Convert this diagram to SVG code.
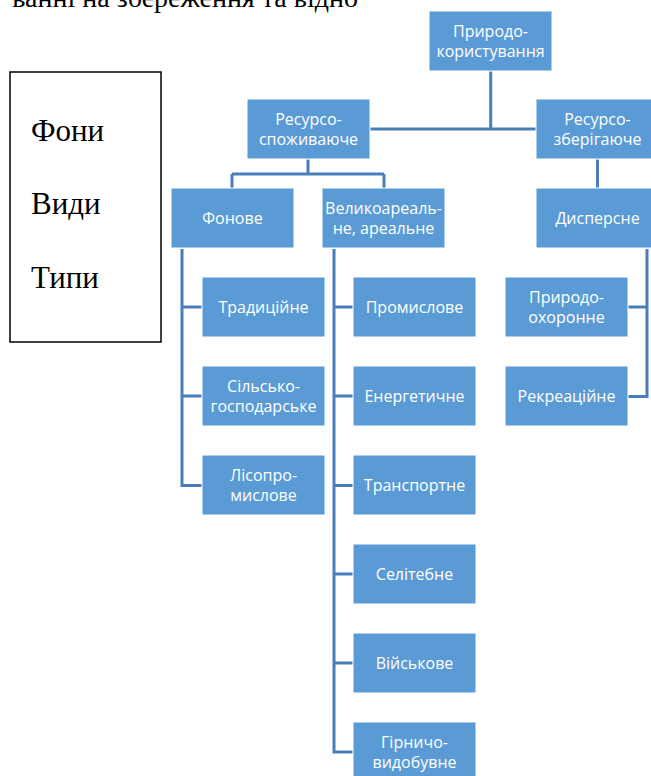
<svg xmlns="http://www.w3.org/2000/svg" width="651" height="776" viewBox="0 0 651 776">
<style>
.box{fill:#5B9BD5;stroke:#ffffff;stroke-width:1}
.lbl{font-family:"Open Sans","Liberation Sans",sans-serif;font-size:16px;fill:#ffffff;text-anchor:middle}
.conn{fill:none;stroke:#4A7EBB;stroke-width:3}
.serif{font-family:"Liberation Serif","Times New Roman",serif;font-size:31px;fill:#000000}
.top{font-family:"Liberation Serif","Times New Roman",serif;font-size:28px;fill:#000000}
</style>
<rect width="651" height="776" fill="#ffffff"/>
<text class="top" x="358" y="7" text-anchor="end">ванні на збереження та відно</text>
<g id="legend">
<rect x="10" y="72" width="151" height="270" fill="#ffffff" stroke="#000000" stroke-width="1.5"/>
<text class="serif" x="31" y="141">Фони</text>
<text class="serif" x="31" y="214">Види</text>
<text class="serif" x="31" y="288">Типи</text>
</g>
<g id="connectors">
<path class="conn" d="M490.7 71 V129 M369 129 H536"/>
<path class="conn" d="M308 159 V174 M232 174 H384 M232 174 V188 M384 174 V188"/>
<path class="conn" d="M597.5 159 V188"/>
<path class="conn" d="M182 249 V485.5 H202 M182 307 H202 M182 396 H202"/>
<path class="conn" d="M334 249 V752 H353 M334 307 H353 M334 396 H353 M334 485.5 H353 M334 574 H353 M334 663 H353"/>
<path class="conn" d="M647 249 V396.5 H628 M647 307 H628"/>
</g>
<g id="n_pryrodokorystuvannia"><rect class="box" x="429" y="11" width="123" height="60"/><text class="lbl" x="490.5" y="36.5">Природо-</text><text class="lbl" x="490.5" y="57">користування</text></g>
<g id="n_resursospozhyvaiuche"><rect class="box" x="247" y="99" width="123" height="60"/><text class="lbl" x="308.5" y="124.5">Ресурсо-</text><text class="lbl" x="308.5" y="145">споживаюче</text></g>
<g id="n_resursozberihaiuche"><rect class="box" x="536" y="99" width="123" height="60"/><text class="lbl" x="597.5" y="124.5">Ресурсо-</text><text class="lbl" x="597.5" y="145">зберігаюче</text></g>
<g id="n_fonove"><rect class="box" x="171" y="188" width="123" height="60"/><text class="lbl" x="232.5" y="223.5">Фонове</text></g>
<g id="n_velykoarealne"><rect class="box" x="322" y="188" width="123" height="60"/><text class="lbl" x="383.5" y="213.5">Великоареаль-</text><text class="lbl" x="383.5" y="234">не, ареальне</text></g>
<g id="n_dyspersne"><rect class="box" x="536" y="188" width="123" height="60"/><text class="lbl" x="597.5" y="223.5">Дисперсне</text></g>
<g id="n_tradytsiine"><rect class="box" x="202" y="277" width="123" height="60"/><text class="lbl" x="263.5" y="312.5">Традиційне</text></g>
<g id="n_silskohospodarske"><rect class="box" x="202" y="366" width="123" height="60"/><text class="lbl" x="263.5" y="391.5">Сільсько-</text><text class="lbl" x="263.5" y="412">господарське</text></g>
<g id="n_lisopromyslove"><rect class="box" x="202" y="455" width="123" height="60"/><text class="lbl" x="263.5" y="480.5">Лісопро-</text><text class="lbl" x="263.5" y="501">мислове</text></g>
<g id="n_promyslove"><rect class="box" x="353" y="277" width="123" height="60"/><text class="lbl" x="414.5" y="312.5">Промислове</text></g>
<g id="n_enerhetychne"><rect class="box" x="353" y="366" width="123" height="60"/><text class="lbl" x="414.5" y="401.5">Енергетичне</text></g>
<g id="n_transportne"><rect class="box" x="353" y="455" width="123" height="60"/><text class="lbl" x="414.5" y="490.5">Транспортне</text></g>
<g id="n_selitebne"><rect class="box" x="353" y="544" width="123" height="60"/><text class="lbl" x="414.5" y="579.5">Селітебне</text></g>
<g id="n_viiskove"><rect class="box" x="353" y="633" width="123" height="60"/><text class="lbl" x="414.5" y="668.5">Військове</text></g>
<g id="n_hirnychovydobuvne"><rect class="box" x="353" y="722" width="123" height="60"/><text class="lbl" x="414.5" y="747.5">Гірничо-</text><text class="lbl" x="414.5" y="768">видобувне</text></g>
<g id="n_pryrodookhoronne"><rect class="box" x="505" y="277" width="123" height="60"/><text class="lbl" x="566.5" y="302.5">Природо-</text><text class="lbl" x="566.5" y="323">охоронне</text></g>
<g id="n_rekreatsiine"><rect class="box" x="505" y="366" width="123" height="60"/><text class="lbl" x="566.5" y="401.5">Рекреаційне</text></g>
</svg>
